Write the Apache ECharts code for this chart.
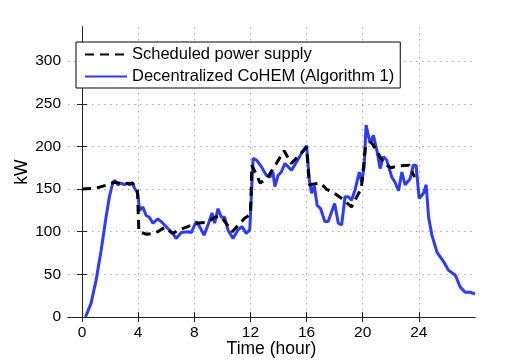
<!DOCTYPE html>
<html>
<head>
<meta charset="utf-8">
<script src="https://cdn.jsdelivr.net/npm/echarts@6/dist/echarts.min.js"></script>
<style>
  html, body { margin: 0; padding: 0; background: #fff; }
  #chart { width: 525px; height: 360px; }
</style>
</head>
<body>
<div id="chart"></div>
<script>
// 刻度
const xTicks = [0, 4, 8, 12, 16, 20, 24];
const yTicks = [0, 50, 100, 150, 200, 250, 300];

// 计划供电 (虚线)
const scheduleHours = [0, 1.0, 1.8, 2.3, 3.0, 3.6, 3.95, 4.05, 4.6, 5.2, 5.9, 6.45, 7.05, 7.4, 8.1, 8.95, 9.45, 9.9, 10.7, 11.6, 12.0,
    12.1, 12.7, 13.2, 13.7, 14.4, 14.9, 15.5, 16.0, 16.2, 17.0, 17.4, 17.9, 18.5, 19.2, 19.9, 20.2, 20.6, 21.0, 21.5, 22.0, 22.5, 23.3, 23.7];
const scheduleKW = [150, 151, 155, 158, 156, 157, 148, 100, 97, 98, 105, 98, 103, 105, 110, 111, 117, 118, 100, 116, 120,
    178, 157, 163, 176, 195, 180, 190, 199, 155, 157, 150, 146, 139, 129, 151, 200, 205, 195, 180, 175, 177, 178, 164];

// 分布式 CoHEM (实线)
const cohemHours = [0.25, 0.64, 1.0, 1.36, 1.71, 1.95, 2.2, 2.35, 2.54, 2.79, 3.02, 3.2, 3.38, 3.6, 3.74, 3.97, 4.1, 4.33, 4.57, 4.8,
    5.05, 5.4, 5.76, 6.1, 6.47, 6.7, 7.07, 7.55, 7.79, 8.14, 8.38, 8.69, 8.98, 9.26, 9.45, 9.69, 9.93, 10.16, 10.4, 10.76,
    11.1, 11.4, 11.7, 11.95, 12.19, 12.43, 12.79, 13.14, 13.38, 13.6, 13.74, 13.97, 14.2, 14.45, 14.69, 14.93, 15.29, 15.64, 16.0, 16.2,
    16.36, 16.55, 16.75, 17.0, 17.3, 17.54, 18.0, 18.26, 18.5, 18.74, 18.97, 19.2, 19.45, 19.76, 19.93, 20.1, 20.24, 20.52, 20.76, 21.0,
    21.24, 21.47, 21.71, 22.07, 22.3, 22.55, 22.79, 23.02, 23.38, 23.6, 23.8, 24.02, 24.33, 24.52, 24.7, 24.93, 25.29, 25.76, 26.1, 26.6,
    26.95, 27.3, 27.66, 28.0];
const cohemKW = [0, 16, 43, 78, 117, 141, 158, 160, 155, 157, 155, 157, 155, 157, 151, 145, 125, 129, 119, 117,
    110, 115, 110, 104, 98, 92, 99, 100, 99, 112, 106, 96, 108, 122, 110, 127, 117, 117, 102, 92,
    102, 106, 98, 102, 186, 184, 176, 166, 164, 170, 153, 166, 170, 180, 176, 172, 182, 192, 201, 160,
    145, 154, 131, 127, 112, 112, 133, 110, 108, 141, 141, 137, 149, 170, 158, 176, 225, 204, 213, 196,
    174, 188, 184, 164, 158, 148, 170, 155, 162, 178, 178, 139, 145, 155, 116, 96, 76, 65, 55, 49,
    35, 29, 29, 27];

const zip = (xs, ys) => xs.map((x, i) => [x, ys[i]]);

const chart = echarts.init(document.getElementById('chart'));

const font = 'Liberation Sans, Arial, Helvetica, sans-serif';
const boxColor = '#222';
const gridLine = { show: true, lineStyle: { color: '#aaa', width: 1, type: [1.5, 4.5] } };
const tick = vals => ({ show: true, inside: true, length: 5, customValues: vals, lineStyle: { color: boxColor } });

const option = {
    animation: false,
    backgroundColor: '#fff',
    textStyle: { fontFamily: font },
    grid: { left: 68, top: 27, right: 50, bottom: 43, outerBoundsMode: 'none' },
    legend: {
        data: ['Scheduled power supply', 'Decentralized CoHEM (Algorithm 1)'],
        orient: 'vertical',
        left: 76,
        top: 42,
        itemWidth: 42,
        itemHeight: 14,
        itemGap: 5,
        padding: [4, 6, 3, 8],
        borderColor: '#000',
        borderWidth: 1,
        backgroundColor: '#fff',
        itemStyle: { opacity: 0 },
        textStyle: { fontSize: 16.5, color: '#000', fontFamily: font }
    },
    xAxis: [
        {
            type: 'value', min: -1, max: 28,
            name: 'Time (hour)', nameLocation: 'middle', nameGap: 23, nameMoveOverlap: false,
            nameTextStyle: { fontSize: 17.5, color: '#000' },
            axisLine: { show: true, lineStyle: { color: boxColor } },
            axisTick: tick(xTicks),
            axisLabel: { customValues: xTicks, fontSize: 15.5, color: '#000', margin: 8 },
            splitLine: gridLine
        },
        {
            type: 'value', min: -1, max: 28, position: 'top',
            axisLine: { show: true, lineStyle: { color: boxColor } },
            axisTick: tick(xTicks),
            axisLabel: { show: false },
            splitLine: { show: false }
        }
    ],
    yAxis: [
        {
            type: 'value', min: 0, max: 340,
            name: 'kW', nameLocation: 'middle', nameGap: 37, nameRotate: 90, nameMoveOverlap: false,
            nameTextStyle: { fontSize: 17.5, color: '#000' },
            axisLine: { show: true, lineStyle: { color: boxColor } },
            axisTick: tick(yTicks),
            axisLabel: { customValues: yTicks, fontSize: 15.5, color: '#000', margin: 7 },
            splitLine: gridLine
        },
        {
            type: 'value', min: 0, max: 340, position: 'right',
            axisLine: { show: true, lineStyle: { color: boxColor } },
            axisTick: tick(yTicks),
            axisLabel: { show: false },
            splitLine: { show: false }
        }
    ],
    series: [
        {
            name: 'Decentralized CoHEM (Algorithm 1)',
            type: 'line',
            data: zip(cohemHours, cohemKW),
            symbol: 'none',
            color: '#2b3bff',
            lineStyle: { color: '#2b3bff', width: 3 }
        },
        {
            name: 'Scheduled power supply',
            type: 'line',
            data: zip(scheduleHours, scheduleKW),
            symbol: 'none',
            color: '#000',
            lineStyle: { color: '#000', width: 3, type: [9, 6] }
        }
    ]
};

chart.setOption(option);
</script>
</body>
</html>
